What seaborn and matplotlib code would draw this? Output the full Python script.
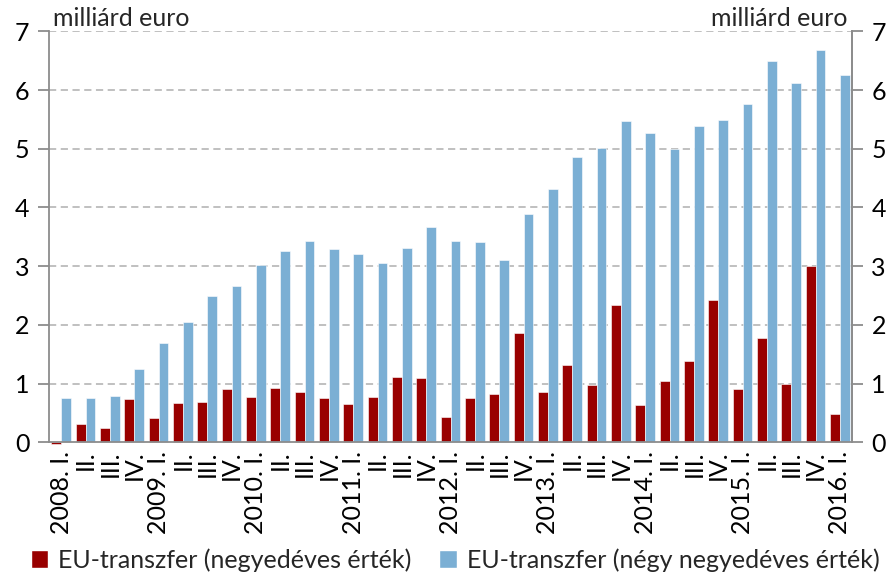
import matplotlib
matplotlib.use("Agg")
import matplotlib.pyplot as plt
import seaborn as sns
import pandas as pd
import numpy as np

years = ["2008", "2009", "2010", "2011", "2012", "2013", "2014", "2015", "2016"]
quarters = ["I.", "II.", "III.", "IV."]
tick_labels = []
keys = []
for y in years:
    for q in quarters:
        if y == "2016" and q != "I.":
            continue
        keys.append(f"{y}-{q}")
        tick_labels.append(f"{y}. {q}" if q == "I." else q)

quarterly = [-0.03, 0.32, 0.24, 0.73,
             0.41, 0.67, 0.68, 0.90,
             0.77, 0.92, 0.86, 0.76,
             0.66, 0.77, 1.12, 1.10,
             0.43, 0.76, 0.82, 1.87,
             0.85, 1.31, 0.98, 2.33,
             0.64, 1.04, 1.38, 2.43,
             0.91, 1.77, 1.00, 3.00,
             0.49]
four_quarter = [0.76, 0.76, 0.79, 1.24,
                1.69, 2.05, 2.49, 2.66,
                3.02, 3.26, 3.43, 3.30,
                3.20, 3.05, 3.31, 3.66,
                3.42, 3.41, 3.10, 3.88,
                4.31, 4.86, 5.02, 5.47,
                5.26, 5.00, 5.39, 5.49,
                5.77, 6.49, 6.12, 6.68,
                6.26]

s1 = "EU-transzfer (negyedéves érték)"
s2 = "EU-transzfer (négy negyedéves érték)"
df = pd.DataFrame({
    "q": keys * 2,
    "v": quarterly + four_quarter,
    "s": [s1] * len(keys) + [s2] * len(keys),
})

sns.set_theme(style="white")
plt.rcParams["font.family"] = ["Lato", "DejaVu Sans"]
FS = 18

fig = plt.figure(figsize=(8.96, 5.81), dpi=100)
ax = fig.add_axes([49/896, 1-442.3/581, (852-49)/896, (442.3-31.3)/581])

red = "#990000"
blue = "#7BAFD4"
sns.barplot(data=df, x="q", y="v", hue="s", order=keys, hue_order=[s1, s2],
            palette=[red, blue], saturation=1, width=0.8, ax=ax, legend=False,
            edgecolor="white", linewidth=0.4)
for p in ax.patches:
    p.set_clip_on(False)

ax.set_xlim(-0.5, len(keys) - 0.5)
ax.set_ylim(0, 7)
ax.set_xlabel("")
ax.set_ylabel("")

grid_c = "#BBBBBB"
spine_c = "#8C8C8C"
for yv in range(1, 8):
    ax.axhline(yv, color=grid_c, lw=1.3, ls=(0, (4, 2.5)), zorder=0)

ax.set_yticks(range(0, 8))
ax.set_yticklabels([str(i) for i in range(0, 8)], fontsize=FS)
ax.set_xticks(range(len(keys)))
ax.set_xticklabels(tick_labels, rotation=90, fontsize=FS, va="top", ha="center")
ax.set_xticks(np.arange(-0.5, len(keys), 1.0), minor=True)
ax.tick_params(axis="x", which="major", length=0, pad=6, colors="black")
ax.tick_params(axis="x", which="minor", length=7, width=1.3, color=spine_c, direction="out")
ax.tick_params(axis="y", length=8, width=1.3, color=spine_c, direction="out", pad=6, labelcolor="black")

ax.spines["top"].set_visible(False)
for side in ["left", "right", "bottom"]:
    ax.spines[side].set_color(spine_c)
    ax.spines[side].set_linewidth(1.3)

ax2 = ax.twinx()
ax2.set_ylim(0, 7)
ax2.set_yticks(range(0, 8))
ax2.set_yticklabels([str(i) for i in range(0, 8)], fontsize=FS)
ax2.tick_params(axis="y", length=8, width=1.3, color=spine_c, direction="out", pad=6, labelcolor="black")
for side in ["top", "left", "bottom"]:
    ax2.spines[side].set_visible(False)
ax2.spines["right"].set_color(spine_c)
ax2.spines["right"].set_linewidth(1.3)
ax2.grid(False)

fig.text(53/896, 1-18/581, "milliárd euro", fontsize=FS, ha="left", va="center")
fig.text(847/896, 1-18/581, "milliárd euro", fontsize=FS, ha="right", va="center")

from matplotlib.patches import Patch
handles = [Patch(facecolor=red, label=s1), Patch(facecolor=blue, label=s2)]
fig.legend(handles=handles, loc="center", bbox_to_anchor=(455/896, 1-560/581), ncol=2,
           frameon=False, fontsize=FS, handlelength=0.7, handleheight=0.7,
           handletextpad=0.4, columnspacing=1.1, borderpad=0)

fig.savefig("out.png", dpi=100)
